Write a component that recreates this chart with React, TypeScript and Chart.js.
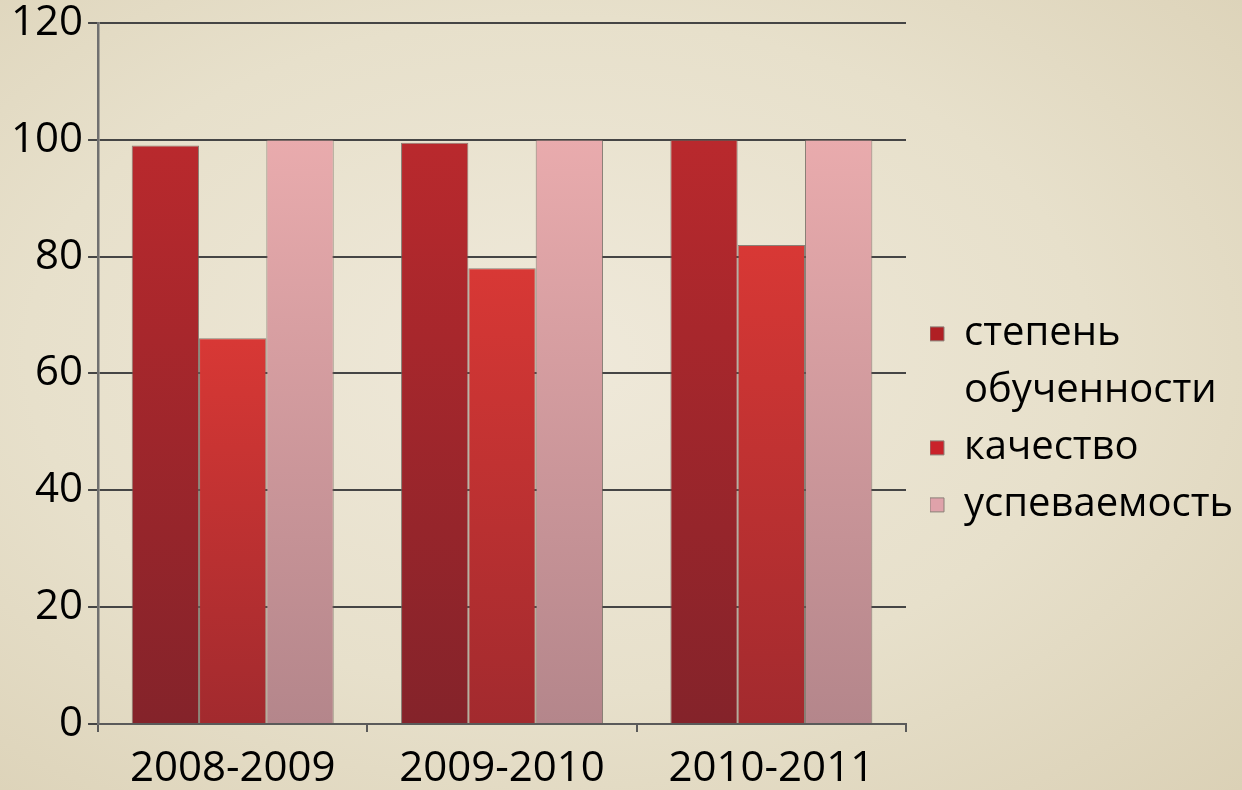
import React, { useEffect, useRef } from "react";
import { Chart, registerables } from "chart.js";

Chart.register(...registerables);

const categories = ["2008-2009", "2009-2010", "2010-2011"];
const seriesNames = [["степень", "обученности"], ["качество"], ["успеваемость"]];
const obuchennost = [99, 99.5, 100];
const kachestvo = [66, 78, 82];
const uspevaemost = [100, 100, 100];
const yTicks = [0, 20, 40, 60, 80, 100, 120];

const gradTop = ["#b9292d", "#d83835", "#e9abad"];
const gradBottom = ["#84232a", "#a22a2e", "#b4868b"];
const legendColors = ["#b01f24", "#c9222a", "#dfa2aa"];

const FONT = "'Open Sans', 'DejaVu Sans', sans-serif";

function barGradient(i: number) {
  return (ctx: any) => {
    const chart = ctx.chart;
    const ys = chart.scales && chart.scales.y;
    if (!chart.chartArea || !ys || ctx.raw === undefined) return gradTop[i];
    const y0 = ys.getPixelForValue(ctx.raw);
    const y1 = ys.getPixelForValue(0);
    if (!isFinite(y0) || !isFinite(y1) || y0 === y1) return gradTop[i];
    const g = chart.ctx.createLinearGradient(0, y0, 0, y1);
    g.addColorStop(0, gradTop[i]);
    g.addColorStop(1, gradBottom[i]);
    return g;
  };
}

const LEGEND_EXTRA_WIDTH = 27;
const LEGEND_SHIFT = 24;

const legendOffsetPlugin = {
  id: "legendOffset",
  beforeUpdate(chart: any) {
    const lg = chart.legend;
    if (lg && !lg._offsetPatched) {
      const fit = lg.fit;
      lg.fit = function (this: any) {
        fit.call(this);
        this.width += LEGEND_EXTRA_WIDTH;
      };
      const draw = lg.draw;
      lg.draw = function (this: any) {
        const c = this.ctx;
        c.save();
        c.translate(LEGEND_SHIFT, 0);
        draw.call(this);
        c.restore();
      };
      lg._offsetPatched = true;
    }
  },
};

export default function App() {
  const ref = useRef<HTMLCanvasElement | null>(null);
  useEffect(() => {
    document.body.style.margin = "0";
    const values = [obuchennost, kachestvo, uspevaemost];
    const chart = new Chart(ref.current as HTMLCanvasElement, {
      type: "bar",
      data: {
        labels: categories,
        datasets: values.map((v, i) => ({
          label: seriesNames[i].join(" "),
          data: v,
          backgroundColor: barGradient(i),
          borderColor: "rgba(105,95,88,0.75)",
          borderWidth: 1,
          categoryPercentage: 0.75,
          barPercentage: 1.0,
        })),
      },
      plugins: [legendOffsetPlugin],
      options: {
        responsive: false,
        animation: false,
        layout: { padding: { left: 6, right: 0, top: 0, bottom: -16 } },
        plugins: {
          tooltip: { enabled: false },
          legend: {
            display: true,
            position: "right",
            align: "center",
            title: { display: true, text: " ", padding: { top: 22, bottom: 23 }, font: { size: 4 } },
            labels: {
              color: "#000",
              font: { family: FONT, size: 40, lineHeight: 1.425 },
              boxWidth: 14,
              boxHeight: 14,
              padding: 0,
              generateLabels: () =>
                seriesNames.map((t, i) => ({
                  text: t as any,
                  fillStyle: legendColors[i],
                  strokeStyle: "#8a8078",
                  fontColor: "#000",
                  lineWidth: 1,
                  hidden: false,
                  datasetIndex: i,
                })),
            },
          },
        },
        scales: {
          x: {
            grid: {
              display: true,
              drawOnChartArea: false,
              drawTicks: true,
              tickLength: 8,
              color: "#5a5a5a",
              lineWidth: 2,
              offset: true,
            },
            border: { display: true, color: "#5a5a5a", width: 2 },
            ticks: {
              color: "#000",
              font: { family: FONT, size: 42, lineHeight: 1.0 },
              padding: 16,
            },
          },
          y: {
            min: 0,
            max: 120,
            afterBuildTicks: (axis: any) => {
              axis.ticks = yTicks.map((v) => ({ value: v }));
            },
            grid: {
              color: "#454545",
              lineWidth: 2,
              tickLength: 10,
            },
            border: { display: true, color: "#707070", width: 2.5 },
            ticks: {
              color: "#000",
              font: { family: FONT, size: 42, lineHeight: 0.85 },
              padding: 5,
            },
          },
        },
      },
    });
    return () => chart.destroy();
  }, []);
  return (
    <div
      style={{
        position: "fixed",
        left: 0,
        top: 0,
        width: 1242,
        height: 790,
        background:
          "radial-gradient(ellipse at 45% 45%, #efe9da 0%, #e7e0cb 55%, #dbd1b6 100%)",
      }}
    >
      <canvas ref={ref} width={1242} height={790} style={{ display: "block" }} />
    </div>
  );
}
